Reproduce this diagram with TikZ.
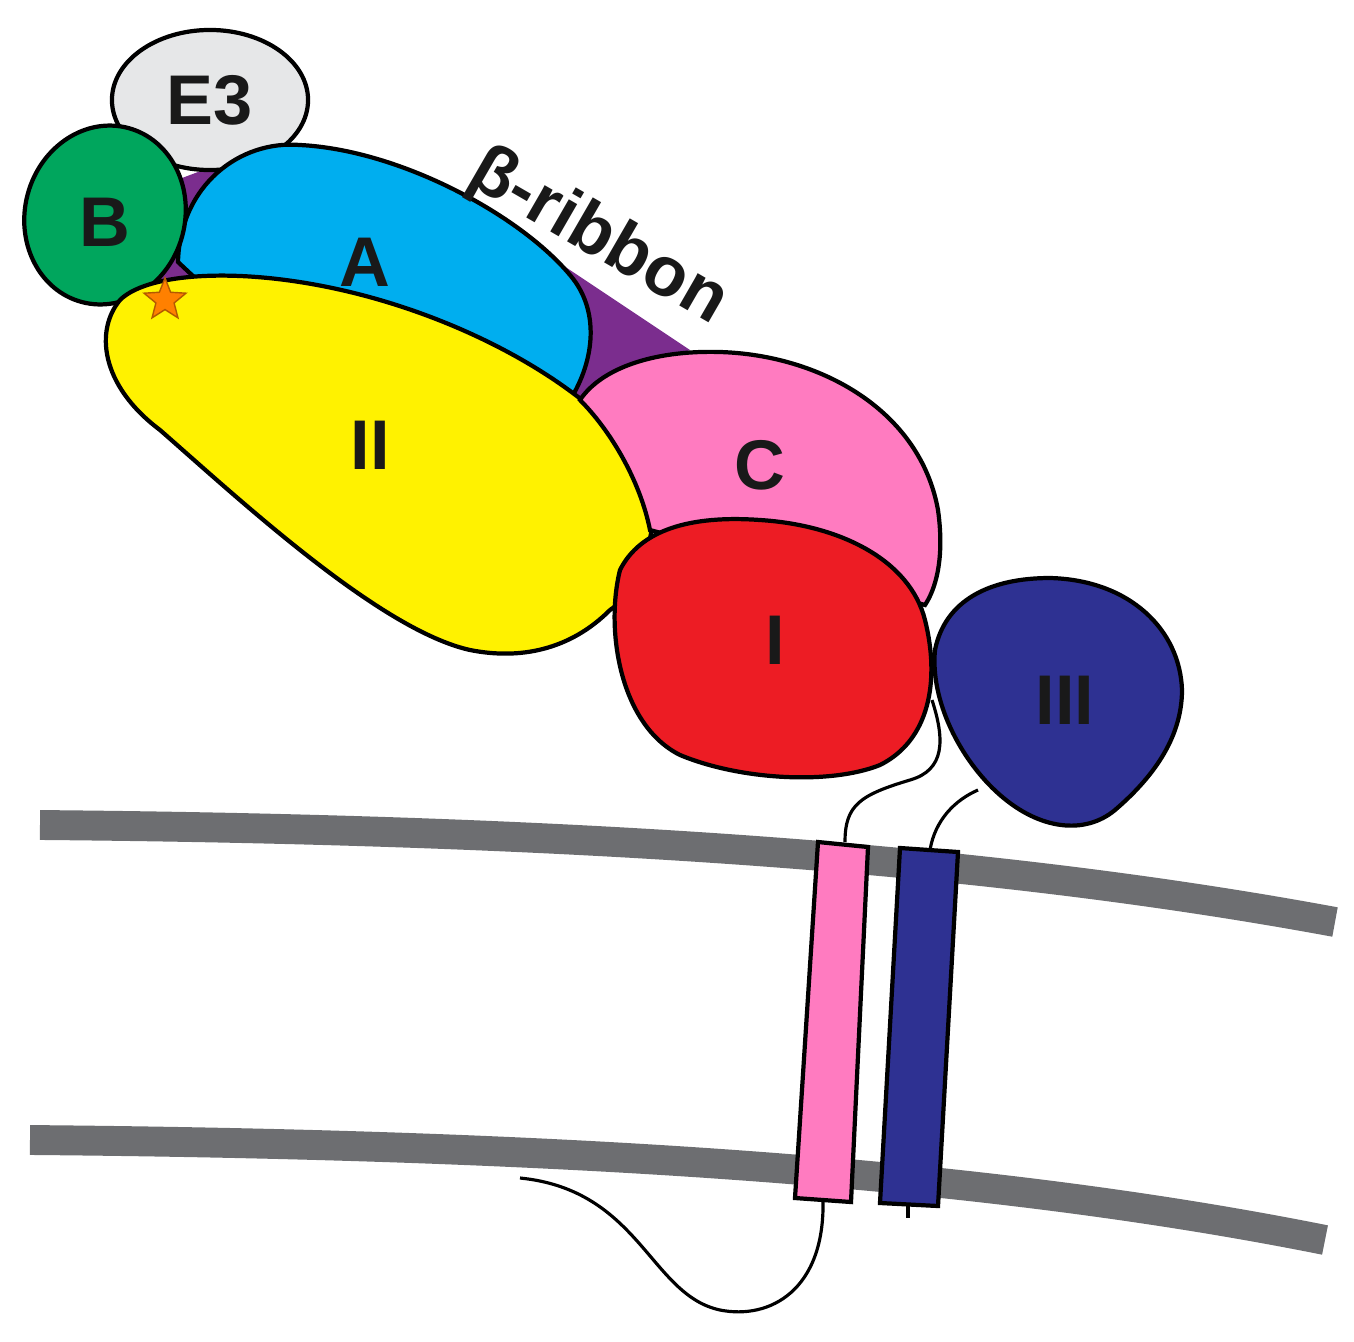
\documentclass[tikz,border=0pt]{standalone}
\usepackage{fontspec}
\setmainfont{Liberation Sans}
\usetikzlibrary{shapes.geometric}
\definecolor{eGray}{HTML}{E6E7E8}
\definecolor{bGreen}{HTML}{00A65D}
\definecolor{aBlue}{HTML}{00AEEF}
\definecolor{rPurple}{HTML}{7B2D8E}
\definecolor{iiYellow}{HTML}{FFF200}
\definecolor{cPink}{HTML}{FF7BC0}
\definecolor{iRed}{HTML}{ED1C24}
\definecolor{iiiNavy}{HTML}{2E3192}
\definecolor{memGray}{HTML}{6D6E71}
\begin{document}
\begin{tikzpicture}[x=0.01cm,y=-0.01cm]
  \tikzstyle{dom} = [draw=black, line width=1.2pt]
  \tikzstyle{lbl} = [font=\fontsize{20}{22}\selectfont\bfseries, text=black!90]
  \tikzstyle{membrane} = [draw=memGray, line width=8.5pt]
  \tikzstyle{tether} = [draw=black, line width=0.9pt]
  \useasboundingbox (0,0) rectangle (1354,1342);

  % membranes
  \path [membrane] (40,825) .. controls (600,830) and (1000,860) .. (1335,922);
  \path [membrane] (30,1140) .. controls (600,1145) and (1000,1175) .. (1325,1240);

  % purple linker and ribbon
  \fill [rPurple] (150,190) -- (230,160) -- (220,280) -- (160,285) -- cycle;
  \fill [rPurple] (540,250) -- (690,350) -- (560,410) -- cycle;

  % domains
  \node [dom, ellipse, fill=eGray, minimum width=1.96cm, minimum height=1.4cm] (e3) at (210,100) {};
  \path [dom, fill=aBlue] (178,262) .. controls (180,185) and (240,140) .. (300,145)
        .. controls (400,150) and (520,215) .. (570,275)
        .. controls (600,310) and (595,360) .. (570,400)
        -- (240,320) -- cycle;
  \node [dom, ellipse, fill=bGreen, minimum width=1.6cm, minimum height=1.8cm, rotate=-15] (b) at (105,215) {};
  \path [dom, fill=iiYellow] (120,300) .. controls (150,270) and (260,265) .. (380,300)
        .. controls (500,335) and (600,400) .. (640,460)
        .. controls (670,520) and (640,590) .. (610,610)
        .. controls (570,650) and (520,660) .. (470,650)
        .. controls (380,630) and (240,500) .. (160,430)
        .. controls (100,385) and (95,330) .. (120,300) -- cycle;
  \path [dom, fill=cPink] (580,400) .. controls (600,370) and (650,350) .. (720,352)
        .. controls (820,355) and (920,410) .. (938,510)
        .. controls (945,560) and (935,590) .. (925,605)
        -- (650,530) .. controls (640,480) and (610,430) .. (580,400) -- cycle;
  \path [dom, fill=iRed] (620,570) .. controls (640,530) and (690,515) .. (760,520)
        .. controls (840,525) and (910,560) .. (925,620)
        .. controls (940,680) and (930,740) .. (880,765)
        .. controls (830,785) and (740,780) .. (680,755)
        .. controls (620,725) and (605,630) .. (620,570) -- cycle;
  \path [dom, fill=iiiNavy] (935,650) .. controls (945,600) and (990,578) .. (1050,578)
        .. controls (1130,580) and (1180,630) .. (1182,690)
        .. controls (1182,740) and (1150,780) .. (1115,810)
        .. controls (1085,835) and (1040,830) .. (1000,795)
        .. controls (960,760) and (930,700) .. (935,650) -- cycle;

  % transmembrane helices
  \path [dom, fill=cPink] (818,842) -- (868,847) -- (851,1202) -- (795,1198) -- cycle;
  \path [dom, fill=iiiNavy] (900,848) -- (958,852) -- (938,1206) -- (880,1203) -- cycle;

  % tethers
  \path [tether] (932,700) .. controls (945,740) and (945,770) .. (910,780)
        .. controls (860,795) and (845,805) .. (845,842);
  \path [tether] (978,790) .. controls (955,800) and (935,820) .. (930,850);
  \path [tether] (823,1200) .. controls (825,1290) and (770,1320) .. (720,1310)
        .. controls (650,1295) and (640,1190) .. (520,1178);
  \path [tether] (908,1205) -- (908,1218);

  % star
  \node [star, star points=5, star point ratio=2.3, fill=orange, draw=orange!70!black, minimum size=0.44cm, inner sep=0pt] (site) at (165,300) {};

  % labels
  \node [lbl] (le3) at (210,100) {E3};
  \node [lbl] (lb) at (105,222) {B};
  \node [lbl] (la) at (365,262) {A};
  \node [lbl, rotate=-30] (lrib) at (598,238) {β-ribbon};
  \node [lbl] (lii) at (370,445) {II};
  \node [lbl] (lc) at (760,465) {C};
  \node [lbl] (li) at (775,640) {I};
  \node [lbl] (liii) at (1065,700) {III};
\end{tikzpicture}
\end{document}
